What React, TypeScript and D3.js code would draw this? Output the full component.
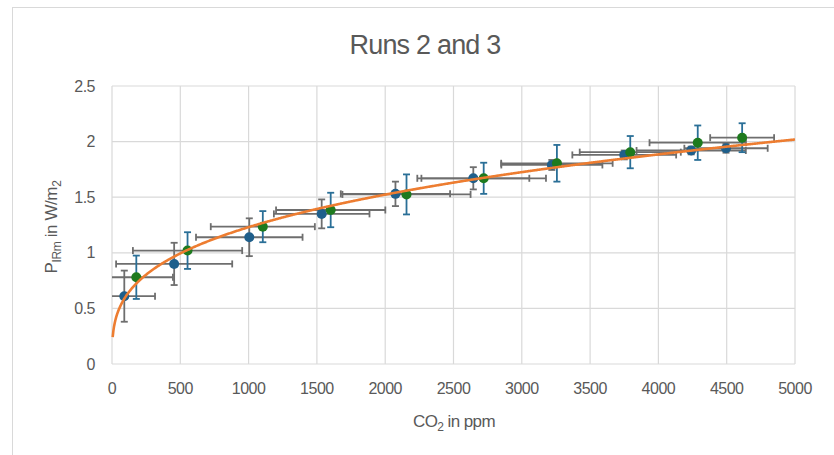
import React from "react";
import * as d3 from "d3";

// run 2 (blue)
const run2X = [90, 455, 1005, 1535, 2075, 2645, 3220, 3750, 4240, 4495];
const run2Y = [0.61, 0.9, 1.14, 1.35, 1.53, 1.67, 1.79, 1.88, 1.92, 1.94];
const run2XErr = [225, 425, 390, 350, 400, 410, 370, 380, 400, 305];
const run2YErr = [0.23, 0.19, 0.17, 0.13, 0.11, 0.1, 0.045, 0.04, 0.035, 0.04];

// run 3 (green)
const run3X = [178, 553, 1104, 1601, 2156, 2721, 3257, 3794, 4288, 4613];
const run3Y = [0.78, 1.02, 1.235, 1.385, 1.525, 1.67, 1.805, 1.905, 1.99, 2.035];
const run3XErr = [268, 400, 381, 400, 469, 456, 408, 370, 353, 234];
const run3YErr = [0.195, 0.165, 0.14, 0.155, 0.18, 0.14, 0.165, 0.145, 0.155, 0.13];

// power trendline y = a * x^b
const trendA = 0.147;
const trendB = 0.3076;

const xTicks = [0, 500, 1000, 1500, 2000, 2500, 3000, 3500, 4000, 4500, 5000];
const yTicks = [0, 0.5, 1, 1.5, 2, 2.5];

const W = 834;
const H = 455;
const left = 112;
const right = 795;
const top = 86;
const bottom = 364;

const textColor = "#595959";
const gridColor = "#d9d9d9";
const errGray = "#6e6e6e";
const font = "'Liberation Sans', Arial, sans-serif";

export default function App() {
  const x = d3.scaleLinear().domain([0, 5000]).range([left, right]);
  const y = d3.scaleLinear().domain([0, 2.5]).range([bottom, top]);

  const trendPts = d3.range(5, 5001, 5).map((v) => [v, trendA * Math.pow(v, trendB)] as [number, number]);
  const trendPath = d3
    .line<[number, number]>()
    .x((d) => x(d[0]))
    .y((d) => y(d[1]))(trendPts);

  const series = [
    { xs: run2X, ys: run2Y, xe: run2XErr, ye: run2YErr, fill: "#1f5f8b", vColor: errGray },
    { xs: run3X, ys: run3Y, xe: run3XErr, ye: run3YErr, fill: "#1e7a1e", vColor: "#2a6f97" },
  ];

  const cap = 3.5;

  return (
    <div style={{ position: "absolute", left: 0, top: 0 }}>
      <svg width={W} height={H} style={{ display: "block", fontFamily: font }}>
        <rect x={0} y={0} width={W} height={H} fill="#fff" />
        <rect x={12.5} y={7.5} width={840} height={470} fill="#fff" stroke={gridColor} />
        <defs>
          <clipPath id="plotClip">
            <rect x={left} y={top - 10} width={right - left + 20} height={bottom - top + 10} />
          </clipPath>
        </defs>

        {/* grid */}
        {xTicks.map((t) => (
          <line key={"gx" + t} x1={x(t)} x2={x(t)} y1={top} y2={bottom} stroke={gridColor} strokeWidth={1.2} />
        ))}
        {yTicks.map((t) => (
          <line key={"gy" + t} x1={left} x2={right} y1={y(t)} y2={y(t)} stroke={gridColor} strokeWidth={1.2} />
        ))}

        {/* tick labels */}
        {xTicks.map((t) => (
          <text key={"tx" + t} x={x(t)} y={394} textAnchor="middle" fontSize={16} fill={textColor} letterSpacing={-0.5}>
            {t}
          </text>
        ))}
        {yTicks.map((t) => (
          <text key={"ty" + t} x={95} y={y(t) + 5.5} textAnchor="end" fontSize={16} fill={textColor} letterSpacing={-0.5}>
            {t}
          </text>
        ))}

        {/* error bars */}
        <g clipPath="url(#plotClip)">
          {series.map((s, si) =>
            s.xs.map((v, i) => {
              const cx = x(v);
              const cy = y(s.ys[i]);
              const x0 = x(v - s.xe[i]);
              const x1 = x(v + s.xe[i]);
              const y0 = y(s.ys[i] - s.ye[i]);
              const y1 = y(s.ys[i] + s.ye[i]);
              return (
                <g key={"e" + si + i} strokeWidth={1.8}>
                  <line x1={x0} x2={x1} y1={cy} y2={cy} stroke={errGray} />
                  <line x1={x0} x2={x0} y1={cy - cap} y2={cy + cap} stroke={errGray} />
                  <line x1={x1} x2={x1} y1={cy - cap} y2={cy + cap} stroke={errGray} />
                  <line x1={cx} x2={cx} y1={y0} y2={y1} stroke={s.vColor} />
                  <line x1={cx - cap} x2={cx + cap} y1={y0} y2={y0} stroke={s.vColor} />
                  <line x1={cx - cap} x2={cx + cap} y1={y1} y2={y1} stroke={s.vColor} />
                </g>
              );
            })
          )}
        </g>

        {/* markers */}
        {series.map((s, si) =>
          s.xs.map((v, i) => <circle key={"m" + si + i} cx={x(v)} cy={y(s.ys[i])} r={5} fill={s.fill} />)
        )}

        {/* trendline */}
        <path d={trendPath || ""} fill="none" stroke="#ed7d31" strokeWidth={2.6} />

        {/* title */}
        <text x={425} y={54} textAnchor="middle" fontSize={27} fill={textColor} letterSpacing={-0.8}>
          Runs 2 and 3
        </text>

        {/* axis titles */}
        <text x={454} y={427} textAnchor="middle" fontSize={17} fill={textColor} letterSpacing={-0.6}>
          CO<tspan fontSize={12} dy={4}>2</tspan>
          <tspan dy={-4}> in ppm</tspan>
        </text>
        <text
          transform={`translate(57,${227}) rotate(-90)`}
          textAnchor="middle"
          fontSize={17}
          fill={textColor}
          letterSpacing={-0.4}
        >
          P<tspan fontSize={12} dy={4}>IRm</tspan>
          <tspan dy={-4}> in W/m</tspan>
          <tspan fontSize={12} dy={4}>2</tspan>
        </text>
      </svg>
    </div>
  );
}
